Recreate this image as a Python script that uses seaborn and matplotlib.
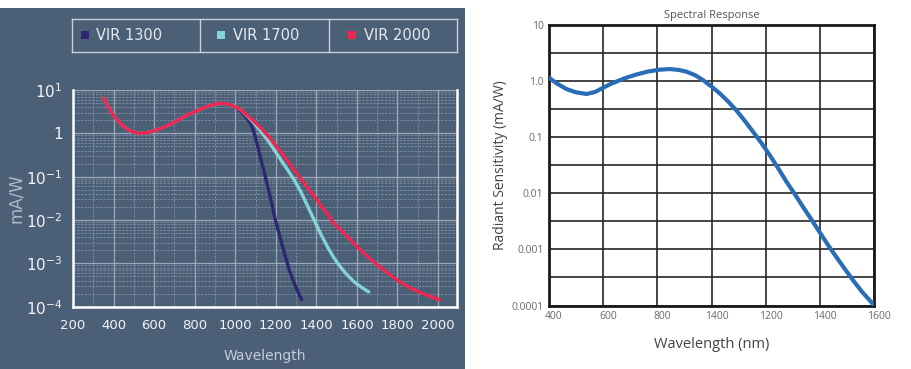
import pandas as pd
import seaborn as sns
import matplotlib.pyplot as plt
import matplotlib.transforms as mtransforms
from matplotlib.patches import Rectangle
from matplotlib.ticker import FixedLocator, MultipleLocator, LogLocator, NullFormatter

# left chart: VIR detectors (mA/W vs wavelength nm)
common_nm = [350, 370, 392, 415, 441, 465, 490, 510, 530, 555, 588, 610, 637, 680,
             719, 760, 800, 840, 882, 910, 931, 955, 980, 1005]
common_val = [6.5, 4.4, 2.9, 2.1, 1.56, 1.28, 1.1, 1.03, 1.0, 1.02, 1.1, 1.2, 1.31, 1.62,
              2.04, 2.6, 3.16, 3.8, 4.5, 4.8, 4.9, 4.8, 4.5, 4.0]

vir1300_nm = common_nm[:-1] + [1005, 1025, 1045, 1062, 1078, 1090, 1103, 1115, 1127, 1140, 1152,
                               1164, 1176, 1188, 1201, 1217, 1233, 1250, 1266, 1282, 1298, 1313, 1328]
vir1300_val = common_val[:-1] + [3.9, 3.3, 2.65, 2.1, 1.6, 1.12, 0.70, 0.42, 0.244, 0.145, 0.085,
                                 0.05, 0.029, 0.016, 0.0088, 0.0047, 0.0025, 0.0013, 7.1e-4, 4.5e-4,
                                 2.9e-4, 2.0e-4, 1.44e-4]

vir1700_nm = common_nm + [1029, 1060, 1094, 1127, 1160, 1193, 1225, 1258, 1290, 1323, 1356, 1389,
                          1421, 1455, 1486, 1520, 1552, 1590, 1625, 1658]
vir1700_val = common_val + [3.46, 2.5, 1.71, 1.1, 0.70, 0.41, 0.244, 0.145, 0.085, 0.045, 0.0214,
                            0.01, 0.0048, 0.0024, 0.00135, 8.1e-4, 5.4e-4, 3.6e-4, 2.75e-4, 2.2e-4]

vir2000_nm = common_nm + [1029, 1060, 1094, 1127, 1160, 1193, 1225, 1258, 1290, 1323, 1356, 1390,
                          1421, 1455, 1486, 1527, 1568, 1601, 1650, 1699, 1755, 1813, 1860, 1911,
                          1960, 2009]
vir2000_val = common_val + [3.46, 2.6, 1.86, 1.32, 0.89, 0.575, 0.37, 0.23, 0.144, 0.09, 0.057, 0.035,
                            0.022, 0.0137, 0.0085, 0.0055, 0.0035, 0.0024, 0.00148, 9.3e-4, 5.8e-4,
                            3.7e-4, 2.75e-4, 2.14e-4, 1.74e-4, 1.44e-4]

series_names = ["VIR 1300", "VIR 1700", "VIR 2000"]
series_colors = ["#2e2872", "#85d3d6", "#ee2650"]

left_xticks = [200, 400, 600, 800, 1000, 1200, 1400, 1600, 1800, 2000]
left_yticks = [1e-4, 1e-3, 1e-2, 1e-1, 1, 10]
left_ylabels = ["10$^{-4}$", "10$^{-3}$", "10$^{-2}$", "10$^{-1}$", "1", "10$^{1}$"]

# right chart: spectral response
resp_nm = [400, 430, 465, 500, 539, 570, 600, 630, 662, 690, 723, 765, 809, 846, 880, 908,
           940, 969, 1000, 1031, 1062, 1092, 1123, 1154, 1185, 1215, 1246, 1277, 1308, 1338,
           1369, 1400, 1430, 1461, 1492, 1523, 1556, 1590, 1600]
resp_val = [1.15, 0.9, 0.72, 0.63, 0.59, 0.64, 0.76, 0.90, 1.04, 1.17, 1.31, 1.48, 1.60, 1.64,
            1.58, 1.47, 1.27, 1.04, 0.8, 0.60, 0.43, 0.30, 0.195, 0.124, 0.078, 0.048, 0.028,
            0.016, 0.0096, 0.0057, 0.0034, 0.002, 0.0012, 7.3e-4, 4.5e-4, 2.8e-4, 1.75e-4,
            1.15e-4, 1e-4]
right_xticks = [400, 600, 800, 1000, 1200, 1400, 1600]
right_xlabels = ["400", "600", "800", "1400", "1200", "1400", "1600"]
right_yticks = [1e-4, 1e-3, 1e-2, 1e-1, 1, 10]
right_ylabels = ["0.0001", "0.001", "0.01", "0.1", "1.0", "10"]

sns.set_theme(style="white")
plt.rcParams['font.family'] = ['DejaVu Sans']
plt.rcParams['lines.solid_capstyle'] = 'round'
plt.rcParams['lines.solid_joinstyle'] = 'round'

bg = "#4b5f77"
fig = plt.figure(figsize=(9.11, 3.69), dpi=100)
fig.patches.append(Rectangle((0, 0), 465 / 911, 361 / 369, transform=fig.transFigure,
                             facecolor=bg, edgecolor="none", zorder=-5))

# ---- left panel
ax1 = fig.add_axes([73 / 911, 62.3 / 369, 383.7 / 911, 216.7 / 369])
ax1.set_facecolor("none")

rows = []
for name, xs, ys in zip(series_names, [vir1300_nm, vir1700_nm, vir2000_nm],
                        [vir1300_val, vir1700_val, vir2000_val]):
    for x, y in zip(xs, ys):
        rows.append({"nm": x, "val": y, "series": name})
df = pd.DataFrame(rows)

sns.lineplot(data=df, x="nm", y="val", hue="series", palette=series_colors,
             hue_order=series_names, sort=False, estimator=None, linewidth=2.4,
             legend=False, ax=ax1, zorder=5)
ax1.set_yscale("log")
ax1.set_xlim(210, 2092)
ax1.set_ylim(1e-4, 10)
ax1.set_xticks(left_xticks)
ax1.xaxis.set_minor_locator(MultipleLocator(100))
ax1.set_yticks(left_yticks)
ax1.set_yticklabels(left_ylabels)
ax1.yaxis.set_minor_locator(LogLocator(base=10, subs=range(2, 10)))
ax1.yaxis.set_minor_formatter(NullFormatter())

ax1.grid(which="major", color="#aab6c4", linewidth=0.9, alpha=0.85)
ax1.grid(which="minor", color="#8d9bad", linewidth=0.6, linestyle=(0, (3, 1.5)), alpha=0.8)
ax1.set_axisbelow(True)
for s in ["left", "bottom", "right"]:
    ax1.spines[s].set_color("white")
    ax1.spines[s].set_linewidth(1.8)
ax1.spines["top"].set_visible(False)
ax1.tick_params(axis="y", which="major", direction="inout", length=7, width=2,
                color="white", labelcolor="#f2f4f7", labelsize=11, pad=4)
ax1.tick_params(axis="y", which="minor", length=0)
ax1.tick_params(axis="x", which="major", direction="inout", length=6, width=1.3,
                color="white", labelcolor="#f2f4f7", labelsize=9.5, pad=6)
ax1.tick_params(axis="x", which="minor", direction="in", length=3, width=1, color="white")
ax1.set_xlabel("Wavelength", color="#c4ccd6", fontsize=10, labelpad=12)
ax1.set_ylabel("mA/W", color="#aeb9c6", fontsize=12)
ax1.yaxis.set_label_coords(-0.125, 0.5)

# legend box
lg = fig.add_axes([72 / 911, 316.7 / 369, 385.5 / 911, 33.3 / 369])
lg.set_facecolor("none")
lg.set_xlim(0, 3)
lg.set_ylim(0, 1)
lg.set_xticks([])
lg.set_yticks([])
for s in lg.spines.values():
    s.set_color("#c9d1da")
    s.set_linewidth(1)
lg.axvline(1, color="#c9d1da", linewidth=1)
lg.axvline(2, color="#c9d1da", linewidth=1)
marker_x = [0.10, 1.16, 2.18]
for i, (name, col) in enumerate(zip(series_names, series_colors)):
    lg.scatter([marker_x[i]], [0.52], marker="s", s=32, color=col, linewidths=0)
    lg.text(marker_x[i] + 0.09, 0.5, name, color="#e4e9ef", fontsize=10.5,
            va="center", ha="left")

# ---- right panel
ax2 = fig.add_axes([549 / 911, 63.5 / 369, 325 / 911, 280.5 / 369])
ax2.set_facecolor("white")
sns.lineplot(x=resp_nm, y=resp_val, color="#2a6cb6", linewidth=3, ax=ax2, zorder=5)
ax2.set_yscale("log")
ax2.set_xlim(400, 1600)
ax2.set_ylim(1e-4, 10)
ax2.set_xticks(right_xticks)
ax2.set_xticklabels(right_xlabels)
ax2.set_yticks(right_yticks)
ax2.set_yticklabels(right_ylabels)
ax2.yaxis.set_minor_locator(FixedLocator([10 ** (k + 0.5) for k in range(-4, 1)]))
ax2.yaxis.set_minor_formatter(NullFormatter())
ax2.grid(which="both", color="#262626", linewidth=1.2)
ax2.set_axisbelow(True)
for s in ax2.spines.values():
    s.set_color("#1a1a1a")
    s.set_linewidth(2)
ax2.tick_params(which="both", length=0)
ax2.tick_params(axis="both", labelcolor="#6b6b6b", labelsize=7.5, pad=4)
shift = mtransforms.ScaledTranslation(5 / 100, 0, fig.dpi_scale_trans)
for lab in ax2.get_xticklabels():
    lab.set_fontfamily("Open Sans")
    lab.set_transform(lab.get_transform() + shift)
for lab in ax2.get_yticklabels():
    lab.set_fontfamily("Open Sans")
ax2.set_title("Spectral Response", fontsize=8, color="#555555", pad=5, family="Open Sans")
ax2.set_xlabel("Wavelength (nm)", fontsize=10.5, color="#444444", labelpad=11, family="Open Sans")
ax2.set_ylabel("Radiant Sensitivity (mA/W)", fontsize=10, color="#444444", labelpad=2,
               family="Open Sans")

fig.savefig("out.png", dpi=100, facecolor="white")
